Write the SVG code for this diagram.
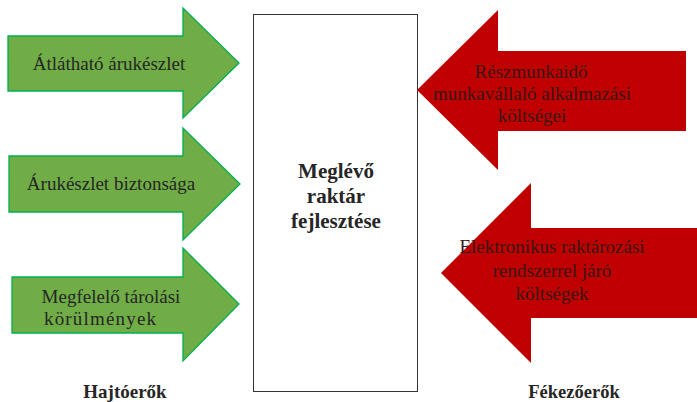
<svg xmlns="http://www.w3.org/2000/svg" width="697" height="402" viewBox="0 0 697 402">
<style>
.g{fill:#70ad47;stroke:#00b050;stroke-width:1.3}
.r{fill:#c00000;stroke:none}
text{font-family:"Liberation Serif","Times New Roman","Noto Serif","DejaVu Serif",serif}
.t{font-size:19px;fill:#262626;text-anchor:middle}
.tr{font-size:19px;fill:#3a1616;text-anchor:middle}
.b{font-weight:bold;fill:#262626;text-anchor:middle}
</style>
<rect width="697" height="402" fill="#fff"/>
<g id="center">
<rect x="253.5" y="14.5" width="164" height="377" fill="#fff" stroke="#333" stroke-width="1"/>
<text class="b" font-size="21" x="336" y="178">Meglévő</text>
<text class="b" font-size="21" x="336" y="203">raktár</text>
<text class="b" font-size="21" x="336" y="228">fejlesztése</text>
</g>
<g id="connectors">
<g id="arrow-g1">
<polygon class="g" points="8,36 183,36 183,8 239,63 183,118 183,91 8,91"/>
<text class="t" x="109" y="70">Átlátható árukészlet</text>
</g>
<g id="arrow-g2">
<polygon class="g" points="9,156 183,156 183,128 240,184 183,240 183,212 9,212"/>
<text class="t" x="111" y="190">Árukészlet biztonsága</text>
</g>
<g id="arrow-g3">
<polygon class="g" points="12,277 183,277 183,248 239,304 183,361 183,333 12,333"/>
<text class="t" x="111" y="303">Megfelelő tárolási</text>
<text class="t" x="100" y="325" textLength="112" lengthAdjust="spacing">körülmények</text>
</g>
<g id="arrow-r1">
<polygon class="r" points="686,51 498,51 498,10 417,90 498,170 498,131 686,131"/>
<text class="tr" x="531" y="78">Részmunkaidő</text>
<text class="tr" x="532" y="100">munkavállaló alkalmazási</text>
<text class="tr" x="532" y="122">költségei</text>
</g>
<g id="arrow-r2">
<polygon class="r" points="697,228 531,228 531,183 441,273 531,363 531,318 697,318"/>
<text class="tr" x="552" y="253">Elektronikus raktározási</text>
<text class="tr" x="552" y="277">rendszerrel járó</text>
<text class="tr" x="552" y="300">költségek</text>
</g>
</g>
<g id="labels">
<text class="b" font-size="19" x="125" y="398">Hajtóerők</text>
<text class="b" font-size="18.5" x="574" y="398">Fékezőerők</text>
</g>
</svg>
